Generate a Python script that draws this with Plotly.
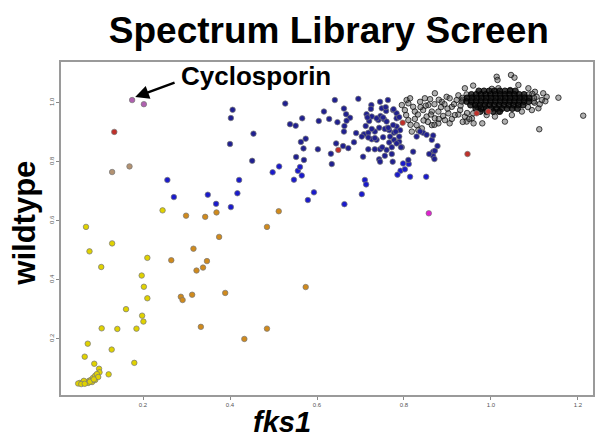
import plotly.graph_objects as go

# ---------------- data ----------------
yellow_x = [0.245, 0.069, 0.129, 0.077, 0.104, 0.210, 0.197, 0.202, 0.210, 0.161, 0.198, 0.201,
            0.105, 0.141, 0.185, 0.073, 0.128, 0.066, 0.088, 0.180, 0.099, 0.100, 0.121,
            0.055, 0.062, 0.069, 0.076, 0.080, 0.085, 0.090, 0.094, 0.074, 0.083, 0.090, 0.064,
            0.051, 0.097, 0.058, 0.066, 0.078, 0.087]
yellow_y = [0.635, 0.579, 0.523, 0.496, 0.443, 0.474, 0.414, 0.376, 0.337, 0.300, 0.278, 0.258,
            0.235, 0.233, 0.234, 0.183, 0.163, 0.139, 0.115, 0.118, 0.098, 0.086, 0.079,
            0.050, 0.052, 0.053, 0.057, 0.060, 0.067, 0.074, 0.080, 0.050, 0.053, 0.060, 0.057,
            0.048, 0.070, 0.046, 0.047, 0.054, 0.062]

orange_x = [0.299, 0.343, 0.369, 0.375, 0.316, 0.265, 0.347, 0.323, 0.338, 0.389, 0.313, 0.287,
            0.291, 0.333, 0.433, 0.512, 0.485, 0.574, 0.485]
orange_y = [0.617, 0.613, 0.628, 0.545, 0.505, 0.466, 0.463, 0.431, 0.441, 0.355, 0.349, 0.342,
            0.331, 0.240, 0.199, 0.632, 0.579, 0.375, 0.234]

tan_x = [0.169, 0.129]
tan_y = [0.784, 0.765]

red_x = [0.134, 0.649, 0.797, 0.946, 0.967, 0.994]
red_y = [0.901, 0.840, 0.932, 0.826, 0.964, 0.970]

pink_x = [0.175, 0.202]
pink_y = [1.009, 0.995]

magenta_x = [0.857]
magenta_y = [0.625]

blue_x = [0.256, 0.271, 0.349, 0.368, 0.402, 0.417, 0.421, 0.498, 0.513, 0.547, 0.556, 0.561,
          0.565, 0.579, 0.663, 0.593, 0.710, 0.713, 0.703, 0.792, 0.802, 0.785, 0.814, 0.851,
          0.798, 0.811]
blue_y = [0.738, 0.680, 0.688, 0.657, 0.646, 0.693, 0.738, 0.764, 0.784, 0.739, 0.769, 0.782,
          0.753, 0.670, 0.656, 0.696, 0.738, 0.723, 0.690, 0.769, 0.774, 0.756, 0.749, 0.749,
          0.794, 0.792]

navy_x = [0.406, 0.402, 0.400, 0.527, 0.641, 0.695, 0.454, 0.451, 0.563, 0.574, 0.569, 0.602,
          0.538, 0.551, 0.566, 0.604, 0.616, 0.628, 0.647, 0.662, 0.667, 0.676, 0.668, 0.663,
          0.662, 0.690, 0.632, 0.644, 0.660, 0.672, 0.685, 0.706, 0.725, 0.745, 0.763, 0.714,
          0.726, 0.720, 0.741, 0.746, 0.754, 0.759, 0.775, 0.783, 0.760, 0.708, 0.703, 0.718,
          0.733, 0.726, 0.737, 0.760, 0.766, 0.777, 0.783, 0.791, 0.777, 0.789, 0.766, 0.772,
          0.760, 0.745, 0.733, 0.718, 0.795, 0.743, 0.745, 0.756, 0.772, 0.774, 0.810, 0.821,
          0.844, 0.852, 0.864, 0.867, 0.867, 0.858, 0.837, 0.829, 0.724, 0.749, 0.758, 0.776,
          0.712, 0.726, 0.743, 0.756, 0.764, 0.775, 0.781, 0.789, 0.768, 0.783, 0.793, 0.871,
          0.877, 0.870, 0.552, 0.570, 0.634, 0.716, 0.752, 0.783, 0.789, 0.737, 0.718, 0.733,
          0.752, 0.750, 0.867]
navy_y = [0.976, 0.948, 0.860, 0.997, 1.009, 1.013, 0.895, 0.803, 0.867, 0.878, 0.845, 0.842,
          0.927, 0.922, 0.947, 0.938, 0.970, 0.945, 0.934, 0.980, 0.961, 0.949, 0.939, 0.921,
          0.902, 0.897, 0.827, 0.862, 0.853, 0.846, 0.866, 0.817, 0.992, 1.003, 1.009, 0.961,
          0.953, 0.938, 0.941, 0.955, 0.944, 0.972, 0.975, 0.964, 0.936, 0.893, 0.885, 0.898,
          0.902, 0.876, 0.874, 0.913, 0.907, 0.898, 0.919, 0.907, 0.874, 0.868, 0.865, 0.849,
          0.840, 0.842, 0.842, 0.842, 0.849, 0.808, 0.800, 0.820, 0.826, 0.800, 0.806, 0.834,
          0.898, 0.891, 0.874, 0.834, 0.819, 0.826, 0.902, 0.885, 0.979, 0.981, 0.985, 0.978,
          0.921, 0.911, 0.915, 0.911, 0.915, 0.924, 0.902, 0.885, 0.885, 0.862, 0.849, 0.837,
          0.853, 0.809, 0.816, 0.806, 0.792, 0.950, 0.950, 0.947, 0.951, 0.947, 0.882, 0.880,
          0.883, 0.849, 0.889]

# unaffected compounds: dense core of the cloud near (1, 1)
core_x = [0.972, 0.984, 0.996, 1.008, 1.020, 1.032, 1.044, 1.056,
          0.955, 0.966, 0.977, 0.988, 0.999, 1.010, 1.021, 1.032, 1.043, 1.054, 1.065, 1.076,
          0.945, 0.956, 0.967, 0.978, 0.989, 1.000, 1.011, 1.022, 1.033, 1.044, 1.055, 1.066, 1.077, 1.088,
          0.944, 0.955, 0.966, 0.977, 0.988, 0.999, 1.010, 1.021, 1.032, 1.043, 1.054, 1.065, 1.076, 1.087,
          0.953, 0.964, 0.975, 0.986, 0.997, 1.008, 1.019, 1.030, 1.041, 1.052, 1.063, 1.074,
          0.965, 0.977, 0.989, 1.001, 1.013, 1.025, 1.037, 1.049, 1.061,
          0.975, 0.990, 1.005, 1.020]
core_y = [1.040, 1.040, 1.040, 1.040, 1.040, 1.040, 1.040, 1.040,
          1.028, 1.028, 1.028, 1.028, 1.028, 1.028, 1.028, 1.028, 1.028, 1.028, 1.028, 1.028,
          1.016, 1.016, 1.016, 1.016, 1.016, 1.016, 1.016, 1.016, 1.016, 1.016, 1.016, 1.016, 1.016, 1.016,
          1.004, 1.004, 1.004, 1.004, 1.004, 1.004, 1.004, 1.004, 1.004, 1.004, 1.004, 1.004, 1.004, 1.004,
          0.992, 0.992, 0.992, 0.992, 0.992, 0.992, 0.992, 0.992, 0.992, 0.992, 0.992, 0.992,
          0.980, 0.980, 0.980, 0.980, 0.980, 0.980, 0.980, 0.980, 0.980,
          0.970, 0.970, 0.970, 0.970]

# unaffected compounds: sparser halo around the core
halo_x = [0.806, 0.814, 0.810, 0.821, 0.802, 0.825, 0.837, 0.848, 0.856, 0.844, 0.864, 0.852,
          0.871, 0.810, 0.829, 0.841, 0.864, 0.879, 0.894, 0.879, 0.887, 0.871, 0.898, 0.910,
          0.902, 0.917, 0.929, 0.921, 0.940, 0.959, 0.940, 0.944, 0.956, 0.980, 0.990, 1.009,
          1.032, 1.017, 1.048, 1.071, 1.094, 1.109, 1.117, 1.128, 1.120, 1.101, 1.086, 1.063,
          1.044, 1.017, 1.002, 1.013, 1.015, 1.046, 1.054, 1.155, 1.212, 1.111, 0.959, 0.971,
          0.833, 0.818, 0.795, 0.880, 0.893, 0.905, 0.915, 0.925, 0.930, 0.935, 0.900, 0.885,
          0.870, 0.860, 0.850, 0.838, 0.832, 0.862, 0.890, 0.910, 0.925, 0.945, 0.950, 0.960,
          0.935, 0.905, 0.880, 0.870, 0.855, 0.845, 0.825, 0.805, 0.815, 1.100, 1.112, 1.105,
          1.125, 1.095, 1.085, 0.934, 0.933, 1.098, 1.099, 0.944, 1.087]
halo_y = [1.009, 1.015, 0.998, 0.986, 0.975, 0.970, 1.003, 1.015, 0.992, 0.975, 0.970, 0.953,
          0.947, 0.941, 0.924, 0.913, 0.924, 0.930, 0.941, 0.970, 1.003, 1.032, 1.020, 0.986,
          0.964, 0.958, 0.975, 1.009, 1.049, 1.058, 0.953, 0.936, 0.947, 0.930, 0.958, 0.953,
          0.936, 0.970, 0.958, 0.970, 0.975, 0.981, 1.009, 1.020, 1.032, 1.037, 1.049, 1.060,
          1.043, 1.049, 1.047, 1.088, 1.077, 1.094, 1.085, 1.017, 0.956, 0.910, 0.964, 0.981,
          0.907, 0.902, 0.992, 1.010, 0.995, 1.015, 0.995, 1.025, 0.990, 1.010, 0.980, 0.985,
          0.995, 1.012, 0.990, 0.985, 0.960, 0.960, 0.955, 0.945, 0.960, 0.965, 0.945, 0.930,
          0.935, 0.930, 0.945, 0.925, 0.935, 0.940, 0.945, 0.958, 0.925, 1.000, 0.995, 1.020,
          1.005, 1.030, 0.985, 1.016, 1.004, 1.004, 1.016, 1.028, 1.028]

x_ticks = [0.2, 0.4, 0.6, 0.8, 1.0, 1.2]
x_tick_labels = ["0.2", "0.4", "0.6", "0.8", "1.0", "1.2"]
y_ticks = [0.2, 0.4, 0.6, 0.8, 1.0]
y_tick_labels = ["0.2", "0.4", "0.6", "0.8", "1.0"]

# ---------------- figure ----------------
fig = go.Figure()

fig.add_trace(go.Scatter(
    x=halo_x, y=halo_y, mode="markers", hoverinfo="x+y",
    marker=dict(size=5.5, color="rgba(80,80,80,0.45)",
                line=dict(color="rgba(15,15,15,0.75)", width=1))))
fig.add_trace(go.Scatter(
    x=core_x, y=core_y, mode="markers", hoverinfo="x+y",
    marker=dict(size=6, color="rgba(10,10,10,0.8)",
                line=dict(color="rgba(0,0,0,0.85)", width=1))))


def colored(xs, ys, fill):
    fig.add_trace(go.Scatter(
        x=xs, y=ys, mode="markers",
        marker=dict(size=5.5, color=fill, line=dict(color="rgba(120,120,120,0.9)", width=0.8)),
        hoverinfo="x+y"))


colored(yellow_x, yellow_y, "#e0d200")
colored(orange_x, orange_y, "#d08a1c")
colored(tan_x, tan_y, "#b39272")
colored(blue_x, blue_y, "#1a1acc")
colored(navy_x, navy_y, "#202090")
colored(red_x, red_y, "#c0302a")
colored(pink_x, pink_y, "#b060b0")
colored(magenta_x, magenta_y, "#e020d0")

FONT = "Liberation Sans, Arial, sans-serif"

fig.update_layout(
    width=599, height=440,
    margin=dict(l=61, r=6, t=62, b=45, autoexpand=False),
    paper_bgcolor="white", plot_bgcolor="white",
    showlegend=False,
    title=dict(text="<b>Spectrum Library Screen</b>", x=0.549, xanchor="center",
               y=0.932, yanchor="middle",
               font=dict(family=FONT, size=37, color="black")),
    xaxis=dict(range=[0.0115, 1.2345], tickvals=x_ticks, ticktext=x_tick_labels,
               showgrid=False, zeroline=False, showline=True, mirror=True, automargin=False,
               linecolor="#9a9a9a", linewidth=1.5, ticks="outside", ticklen=3,
               tickcolor="#888", tickfont=dict(family=FONT, size=6, color="#555")),
    yaxis=dict(range=[0.009, 1.138], tickvals=y_ticks, ticktext=y_tick_labels,
               showgrid=False, zeroline=False, showline=True, mirror=True, automargin=False,
               linecolor="#9a9a9a", linewidth=1.5, ticks="outside", ticklen=3,
               tickcolor="#888", tickangle=-90,
               tickfont=dict(family=FONT, size=6, color="#555")),
    annotations=[
        dict(text="<b>wildtype</b>", xref="paper", yref="paper", x=-0.068, y=0.517,
             xanchor="center", yanchor="middle", textangle=-90, showarrow=False,
             font=dict(family=FONT, size=31, color="black")),
        dict(text="<b><i>fks1</i></b>", xref="paper", yref="paper", x=0.415, y=-0.081,
             xanchor="center", yanchor="middle", showarrow=False,
             font=dict(family=FONT, size=29, color="black")),
        dict(text="<b>Cyclosporin</b>", xref="paper", yref="paper", x=0.3665, y=0.958,
             xanchor="center", yanchor="middle", showarrow=False,
             font=dict(family=FONT, size=26, color="black")),
        dict(text="", x=0.182, y=1.019, xref="x", yref="y", ax=0.276, ay=1.070,
             axref="x", ayref="y", showarrow=True, arrowhead=2, arrowsize=1.1,
             arrowwidth=2.5, arrowcolor="black"),
    ],
)

fig.write_html("out.html", config={"displayModeBar": False},
               post_script="document.body.style.margin='0';document.body.style.padding='0';")
